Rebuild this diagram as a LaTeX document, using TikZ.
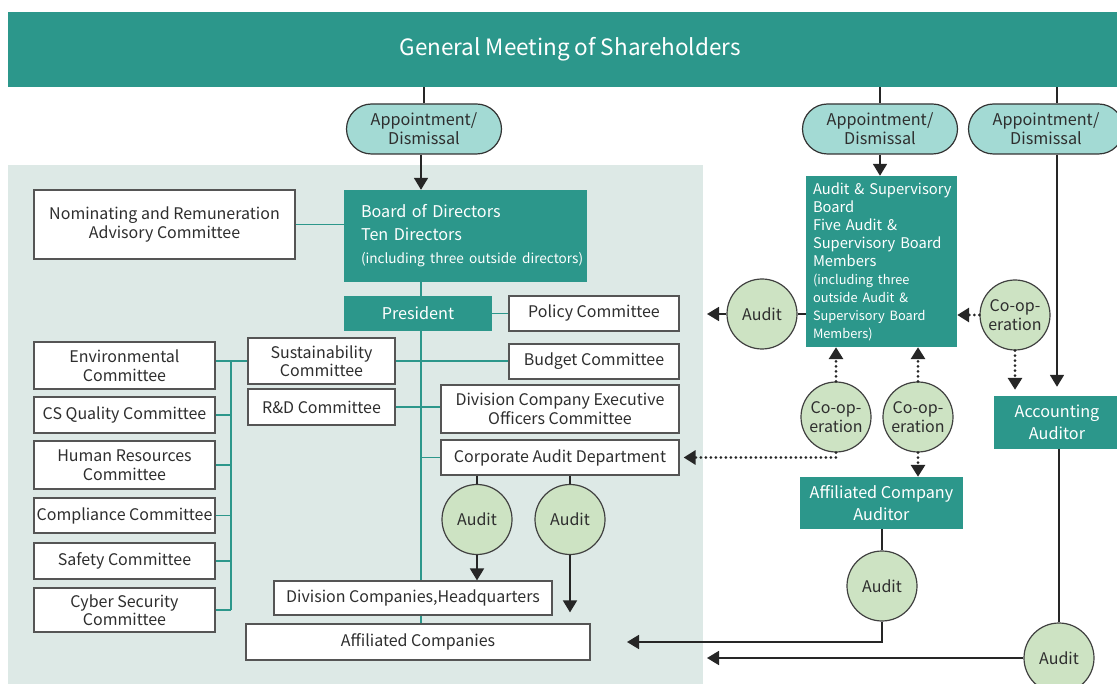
\documentclass[tikz,border=0pt]{standalone}
\usepackage{fontspec}
\setmainfont{Noto Sans CJK JP}
\usetikzlibrary{arrows.meta}
\definecolor{gmteal}{HTML}{2C978B}
\definecolor{panelgray}{HTML}{DDE9E6}
\definecolor{pillcyan}{HTML}{A3DAD4}
\definecolor{auditgreen}{HTML}{CDE3C3}
\definecolor{boxline}{HTML}{555555}
\definecolor{txtgray}{HTML}{2E2E2E}
\tikzset{
  comm/.style={draw=boxline, fill=white, line width=1.2pt, inner sep=0pt,
    align=center, text=txtgray, font=\fontsize{16}{18.5}\selectfont},
  tealbox/.style={fill=gmteal, text=white, inner sep=0pt, align=center,
    font=\fontsize{16.2}{22}\selectfont},
  pill/.style={draw=black!80, fill=pillcyan, line width=1.2pt, rounded corners=25pt,
    minimum width=155pt, minimum height=50pt, inner sep=0pt, align=center,
    text=txtgray, font=\fontsize{16.2}{19}\selectfont},
  auditc/.style={circle, draw=black!75, fill=auditgreen, line width=1.2pt,
    minimum size=70pt, inner sep=0pt, align=center, text=txtgray,
    font=\fontsize{16}{19}\selectfont},
  tline/.style={gmteal, line width=1.8pt},
  bline/.style={black!85, line width=1.8pt},
  arr/.style={-{Triangle[width=14pt,length=12pt]}},
  dotline/.style={black!85, line width=3pt, dash pattern=on 0pt off 5pt, line cap=round},
}
\begin{document}
\begin{tikzpicture}[x=1pt, y=-1pt]
\useasboundingbox (0,0) rectangle (1117,684);
% background panel
\fill[panelgray] (8,165) rectangle (703,690);

% general meeting
\node[tealbox, anchor=west, minimum width=1124, minimum height=75,
  font=\fontsize{22.5}{26}\selectfont] (gm) at (8,49.5) {General Meeting of Shareholders};
\node[pill] (ad1) at (424,129) {Appointment/\\Dismissal};
\node[pill] (ad2) at (880,129) {Appointment/\\Dismissal};
\node[pill] (ad3) at (1046,129) {Appointment/\\Dismissal};

% left side
\coordinate (trunk) at (421,0);
\coordinate (brack) at (231,0);
\node[tealbox, minimum width=243, minimum height=92, text width=209, align=left,
  font=\fontsize{16.2}{23}\selectfont] (bod) at (465.5,236)
  {Board of Directors\\Ten Directors\\\mbox{\fontsize{13.6}{16}\selectfont(including three outside directors)}};
\node[comm, minimum width=261, minimum height=69] (nom) at (164.5,224.5)
  {Nominating and Remuneration\\Advisory Committee};

\draw[tline] (trunk |- bod.south) -- (trunk |- 0,624);
\draw[tline] (nom.east) -- (nom.east -| bod.west);

\node[tealbox, minimum width=148, minimum height=35] (pres) at (418,313.5) {President};
\node[comm, minimum width=170, minimum height=35] (policy) at (594,313.5) {Policy Committee};
\node[comm, minimum width=170, minimum height=35] (budget) at (594,361.5) {Budget Committee};
\node[comm, minimum width=147, minimum height=46] (sust) at (321.5,361) {Sustainability\\Committee};
\node[comm, minimum width=147, minimum height=36] (rd) at (321.5,407) {R\&D Committee};
\node[comm, minimum width=238, minimum height=48] (divexec) at (560,409)
  {Division Company Executive\\Officers Committee};
\node[comm, minimum width=238, minimum height=35] (corpaud) at (560,457.5) {Corporate Audit Department};

\node[comm, minimum width=181, minimum height=47] (env) at (124.5,365.5) {Environmental\\Committee};
\node[comm, minimum width=181, minimum height=36] (csq) at (124.5,415) {CS Quality Committee};
\node[comm, minimum width=181, minimum height=48] (hr) at (124.5,465) {Human Resources\\Committee};
\node[comm, minimum width=181, minimum height=35] (comp) at (124.5,515.5) {Compliance Committee};
\node[comm, minimum width=181, minimum height=36] (safety) at (124.5,561) {Safety Committee};
\node[comm, minimum width=181, minimum height=44] (cyber) at (124.5,610) {Cyber Security\\Committee};

\draw[tline] (pres.east) -- (policy.west);
\draw[tline] (sust.east) -- (sust.east -| budget.west);
\draw[tline] (sust.west) -- (sust.west -| env.east);
\draw[tline] (brack |- sust) -- (brack |- cyber);
\foreach \c in {csq,hr,comp,safety,cyber}
  \draw[tline] (\c.east) -- (\c.east -| brack);
\draw[tline] (rd.east) -- (rd.east -| divexec.west);
\draw[tline] (trunk |- corpaud) -- (corpaud.west);

\node[auditc] (auda) at (477,519.5) {Audit};
\node[auditc] (audb) at (570,519.5) {Audit};
\node[comm, minimum width=344, minimum height=36] (affco) at (418,642) {Affiliated Companies};
\node[comm, minimum width=278, minimum height=34] (divco) at (413,598) {Division Companies,Headquarters};

\draw[bline] (corpaud.south -| auda) -- (auda.north);
\draw[bline] (corpaud.south -| audb) -- (audb.north);
\draw[bline, arr] (auda.south) -- (auda.south |- divco.north);
\draw[bline, arr] (audb.south) -- ([yshift=11pt]audb.south |- affco.north);

% right side
\node[tealbox, minimum width=151, minimum height=171, text width=137, align=left,
  font=\fontsize{14.7}{18}\selectfont] (asb) at (881.5,261.5)
  {\mbox{Audit \& Supervisory}\\Board\\\mbox{Five Audit \&}\\\mbox{Supervisory Board}\\Members\\
   {\fontsize{12.8}{18}\selectfont\mbox{(including three}\\\mbox{outside Audit \&}\\\mbox{Supervisory Board}\\Members)}};
\node[auditc] (audl) at (762,314) {Audit};
\node[auditc] (coopr) at (1015,315) {Co-op-\\eration};
\node[auditc] (coopa) at (836,417) {Co-op-\\eration};
\node[auditc] (coopb) at (918,417) {Co-op-\\eration};
\node[tealbox, minimum width=126, minimum height=53] (acc) at (1057,422.5) {Accounting\\Auditor};
\node[tealbox, minimum width=163, minimum height=52] (acaud) at (881.5,503) {Affiliated Company\\Auditor};
\node[auditc] (audac) at (882,586) {Audit};
\node[auditc] (audaa) at (1059,658) {Audit};

\coordinate (affarr) at (627,642);
\coordinate (grparr) at (707,0);

\draw[bline] (gm.south -| ad1.north) -- (ad1.north);
\draw[bline] (gm.south -| ad2.north) -- (ad2.north);
\draw[bline] (gm.south -| acc) -- (ad3.north -| acc);
\draw[bline, arr] (ad1.south -| trunk) -- (trunk |- bod.north);
\draw[bline, arr] (ad2.south) -- (ad2.south |- asb.north);
\draw[bline, arr] (ad3.south -| acc) -- ([yshift=9pt]acc.north);

\draw[bline] (asb.west |- audl) -- (audl.east);
\draw[bline, arr] (audl.west) -- (audl.west -| grparr);

\draw[dotline, arr] (coopr.west) -- (asb.east |- coopr);
\draw[dotline, arr] (coopr.south) -- ([yshift=6pt]coopr.south |- acc.north);
\draw[dotline, arr] (coopa.north) -- (coopa.north |- asb.south);
\draw[dotline, arr] (coopb.north) -- (coopb.north |- asb.south);
\draw[dotline, arr] (coopa.south) -- (coopa.south |- corpaud) -- ([xshift=4pt]corpaud.east);
\draw[dotline, arr] (coopb.south) -- (coopb.south |- acaud.north);

\draw[bline] (acaud.south -| audac) -- (audac.north);
\draw[bline, arr] (audac.south) |- (affarr);
\draw[bline] (acc.south -| audaa) -- (audaa.north);
\draw[bline, arr] (audaa.west) -- (audaa.west -| grparr);
\end{tikzpicture}
\end{document}
